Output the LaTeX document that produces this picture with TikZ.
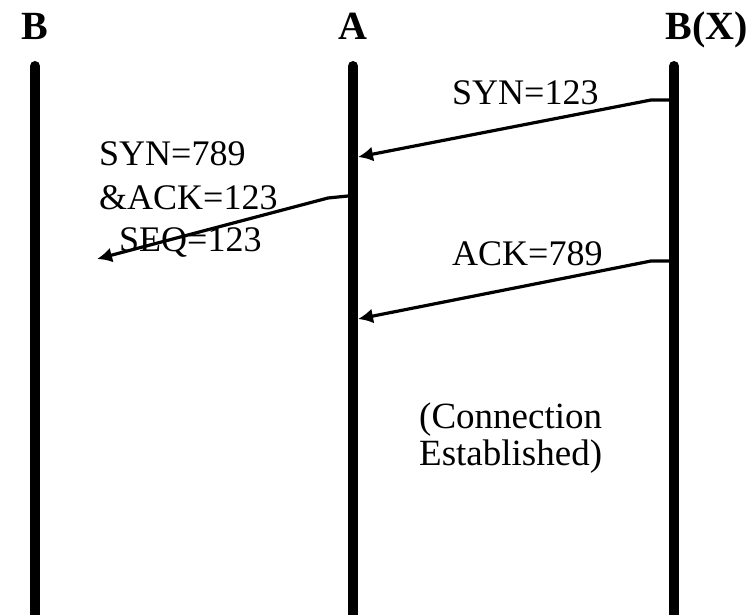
\documentclass[tikz,border=0pt]{standalone}
\usepackage{fontspec}
\setmainfont{Liberation Serif}
\usetikzlibrary{arrows.meta}
\begin{document}
\begin{tikzpicture}[x=1pt,y=-1pt,
  head/.style={font=\fontsize{40}{40}\selectfont\bfseries, inner sep=0pt},
  lbl/.style={font=\fontsize{36}{36}\selectfont, inner sep=0pt},
  note/.style={font=\fontsize{37}{37}\selectfont, inner sep=0pt},
  life/.style={line width=10pt, line cap=round},
  msg/.style={line width=3.2pt, -{Latex[length=15pt,width=15pt]}}]
\useasboundingbox[fill=white] (0,0) rectangle (747,615);
% headers
\node[head, anchor=base] (hB) at (35,40) {B};
\node[head, anchor=base] (hA) at (353,40) {A};
\node[head, anchor=base east] (hX) at (748,40) {B(X)};
% lifelines
\coordinate (Bt) at (35,66); \coordinate (Bb) at (35,625);
\coordinate (At) at (353,66); \coordinate (Ab) at (353,625);
\coordinate (Xt) at (674,66); \coordinate (Xb) at (674,625);
\draw[life] (Bt) -- (Bb);
\draw[life] (At) -- (Ab);
\draw[life] (Xt) -- (Xb);
% message endpoints
\coordinate (m1s) at (669,100); \coordinate (m1e) at (358,157);
\coordinate (m2s) at (348,196); \coordinate (m2e) at (97,259);
\coordinate (m3s) at (669,261); \coordinate (m3e) at (358,319);
\draw[msg] (m1s) -- ++(-18,0) -- (m1e);
\draw[msg] (m2s) -- ++(-20,2) -- (m2e);
\draw[msg] (m3s) -- ++(-18,0) -- (m3e);
% labels
\node[lbl, anchor=base west] (l1) at (452,105) {SYN=123};
\node[lbl, anchor=base west] (l2a) at (99,165) {SYN=789};
\node[lbl, anchor=base west] (l2b) at (99,209) {\&ACK=123};
\node[lbl, anchor=base west] (l2c) at (119,251) {SEQ=123};
\node[lbl, anchor=base west] (l3) at (452,265) {ACK=789};
\node[note, anchor=base west] (n1) at (419,428) {(Connection};
\node[note, anchor=base west] (n2) at (419,465) {Established)};
\end{tikzpicture}
\end{document}
